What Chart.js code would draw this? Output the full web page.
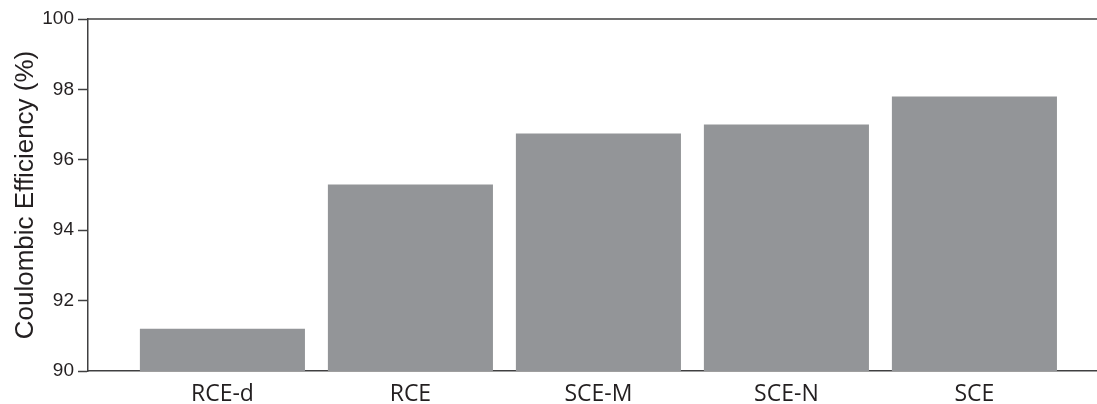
<!DOCTYPE html>
<html>
<head>
<meta charset="utf-8">
<script src="https://cdn.jsdelivr.net/npm/chart.js@4/dist/chart.umd.min.js"></script>
<style>
  html, body { margin: 0; padding: 0; background: #ffffff; }
  #wrap { width: 1097px; height: 404px; position: relative; }
</style>
</head>
<body>
<div id="wrap"><canvas id="chart"></canvas></div>
<script>
// Coulombic efficiency per cell type
const categories = ['RCE-d', 'RCE', 'SCE-M', 'SCE-N', 'SCE'];
const efficiency = [91.2, 95.3, 96.75, 97.0, 97.8];
const yTicks = [90, 92, 94, 96, 98, 100];

const AXIS_COLOR = '#404041';
const TEXT_COLOR = '#231f20';
const BAR_COLOR = '#939598';

// top frame line across the plot
const topFrame = {
  id: 'topFrame',
  afterDraw(chart) {
    const { ctx, chartArea } = chart;
    ctx.save();
    ctx.strokeStyle = AXIS_COLOR;
    ctx.lineWidth = 1.5;
    ctx.beginPath();
    ctx.moveTo(chartArea.left, chartArea.top);
    ctx.lineTo(chart.width, chartArea.top);
    ctx.stroke();
    ctx.restore();
  }
};

new Chart(document.getElementById('chart'), {
  type: 'bar',
  data: {
    datasets: [{
      data: categories.map((c, i) => ({ x: i, y: efficiency[i] })),
      backgroundColor: BAR_COLOR,
      borderWidth: 0,
      categoryPercentage: 1,
      barPercentage: 0.878
    }]
  },
  options: {
    responsive: true,
    maintainAspectRatio: false,
    animation: false,
    layout: { padding: { top: 19, right: 0, bottom: 0, left: 0 } },
    plugins: { legend: { display: false }, tooltip: { enabled: false } },
    scales: {
      x: {
        type: 'linear',
        offset: false,
        min: -0.715,
        max: 4.652,
        z: 1,
        afterBuildTicks(scale) {
          scale.ticks = categories.map((c, i) => ({ value: i }));
        },
        afterFit(scale) { scale.height = 33; },
        grid: { display: false, drawTicks: false, offset: false },
        border: { display: true, color: AXIS_COLOR, width: 1.5 },
        ticks: {
          autoSkip: false,
          maxRotation: 0,
          padding: 12,
          color: TEXT_COLOR,
          font: { family: '"Open Sans", sans-serif', size: 23, lineHeight: 1.0 },
          callback: (v) => categories[v] ?? ''
        }
      },
      y: {
        min: 90,
        max: 100,
        afterBuildTicks(scale) {
          scale.ticks = yTicks.map(v => ({ value: v }));
        },
        afterFit(scale) { scale.width = 88; },
        grid: { drawOnChartArea: false, drawTicks: true, tickLength: 10, tickColor: AXIS_COLOR, tickWidth: 1.5 },
        border: { display: true, color: AXIS_COLOR, width: 1.5 },
        ticks: {
          padding: 4,
          color: TEXT_COLOR,
          font: { family: '"Liberation Sans", Arial, sans-serif', size: 19 }
        },
        title: {
          display: true,
          text: 'Coulombic Efficiency (%)',
          color: TEXT_COLOR,
          padding: { top: 10, bottom: 0 },
          font: { family: '"Liberation Sans", Arial, sans-serif', size: 26, weight: 'normal' }
        }
      }
    }
  },
  plugins: [topFrame]
});
</script>
</body>
</html>
